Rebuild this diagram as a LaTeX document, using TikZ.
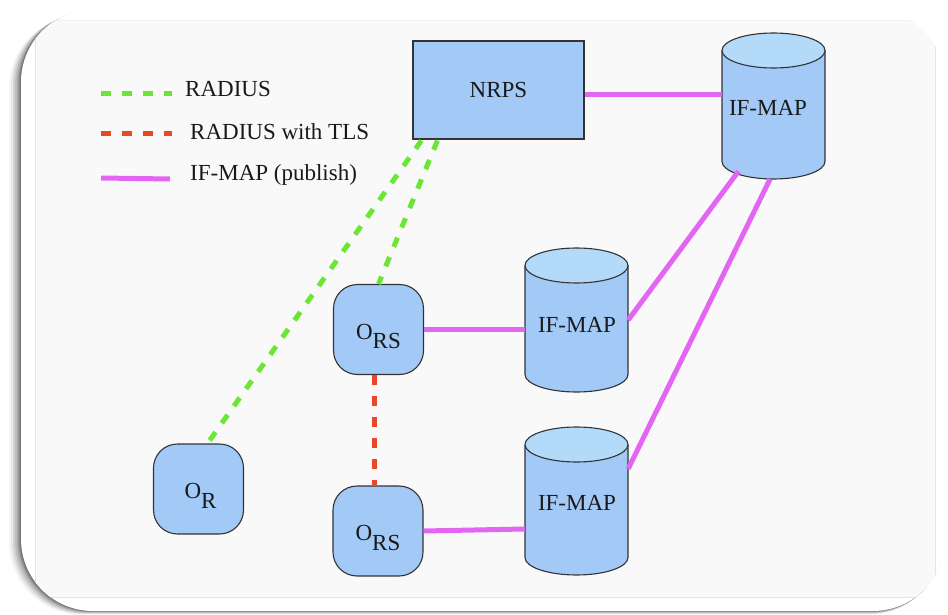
\documentclass[tikz,border=0pt]{standalone}
\usepackage{fontspec}
\setmainfont{Liberation Serif}
\usetikzlibrary{calc}
\definecolor{nodefill}{HTML}{A3C9F7}
\definecolor{topfill}{HTML}{B3DAF9}
\definecolor{edgecol}{HTML}{333333}
\definecolor{radgreen}{HTML}{6BE635}
\definecolor{tlsred}{HTML}{E8472A}
\definecolor{ifmag}{HTML}{E366F2}
\definecolor{panelfill}{HTML}{F9F9F9}
\definecolor{panelline}{HTML}{E4E4E4}
\tikzset{
  lbl/.style={font=\fontsize{23}{26}\selectfont, text=black!90},
  boxnode/.style={draw=edgecol, line width=1.1pt, fill=nodefill},
  onode/.style={boxnode, rounded corners=24pt, minimum width=90pt, minimum height=90pt, inner sep=0pt},
  cylbox/.style={minimum width=103pt, inner sep=0pt},
  greendash/.style={radgreen, line width=5pt, dash pattern=on 10pt off 11pt},
  reddash/.style={tlsred, line width=5pt, dash pattern=on 10pt off 11pt},
  publine/.style={ifmag, line width=5pt},
}
\newcommand{\cyl}[4]{% #1 center x, #2 top center y, #3 bottom center y, #4 ry
  \fill[nodefill] (#1-51.5,#2) -- (#1-51.5,#3) arc[start angle=180,end angle=0,x radius=51.5,y radius=#4] -- (#1+51.5,#2) -- cycle;
  \draw[edgecol, line width=1.1pt] (#1-51.5,#2) -- (#1-51.5,#3) arc[start angle=180,end angle=0,x radius=51.5,y radius=#4] -- (#1+51.5,#2);
  \draw[edgecol, line width=1.1pt, fill=topfill] (#1,#2) ellipse[x radius=51.5, y radius=#4];
}
\begin{document}
\begin{tikzpicture}[x=1pt,y=-1pt]
\useasboundingbox (0,0) rectangle (948,615);
\fill[white] (0,0) rectangle (948,615);
% card shadow
\foreach \i/\o in {12/0.04,10/0.06,8/0.08,6/0.10,4/0.12,2.5/0.15,1.2/0.18}{
  \fill[black, opacity=\o, rounded corners=72pt] (21-\i,10+\i*0.5) rectangle (945-\i*0.3,611+\i*0.3);
}
\fill[white, rounded corners=72pt] (21,10) rectangle (945,611);
% inner panel clipped to card
\begin{scope}
  \clip[rounded corners=72pt] (21,10) rectangle (945,611);
  \fill[panelfill] (35,20) rectangle (935,597);
  \draw[panelline, line width=0.9pt] (935,20) -- (935,597) -- (35,597) -- (35,20);
  \draw[panelline!50, line width=0.8pt] (35,20) -- (935,20);
\end{scope}

% cylinders (drawn shapes) and named nodes
\cyl{773.5}{50.5}{161.5}{17.5}
\cyl{576.5}{265.5}{374.5}{17.5}
\cyl{576.5}{444.5}{557.5}{17.5}
\node[cylbox, minimum height=146pt] (ifm1) at (773.5,106) {};
\node[cylbox, minimum height=144pt] (ifm2) at (576.5,320) {};
\node[cylbox, minimum height=148pt] (ifm3) at (576.5,501) {};
\node[lbl] (t1) at (768,108) {IF-MAP};
\node[lbl] (t2) at (577,325) {IF-MAP};
\node[lbl] (t3) at (577,503) {IF-MAP};

% NRPS
\node[boxnode, minimum width=171pt, minimum height=98pt, inner sep=0pt, lbl] (nrps) at (498.5,90) {NRPS};

% O nodes
\node[onode] (or) at (198.5,489) {};
\node[onode] (ors1) at (378.5,329.5) {};
\node[onode] (ors2) at (378,531) {};
\node[lbl] at ($(or)+(2,7)$) {O\raisebox{-0.42em}{R}};
\node[lbl] at ($(ors1)+(0,7)$) {O\raisebox{-0.42em}{RS}};
\node[lbl] at ($(ors2)+(0,7)$) {O\raisebox{-0.42em}{RS}};

% connectors
\draw[publine] (nrps.east |- 0,95) -- (ifm1.west |- 0,95);
\draw[publine] ($(ifm1.south)+(-35,-8)$) -- ($(ifm2.east)+(0,0)$);
\draw[publine] ($(ifm1.south)+(-3.5,0)$) -- ($(ifm3.north east)+(0,42)$);
\draw[publine] (ors1.east) -- (ors1.east -| ifm2.west);
\draw[publine] (ors2.east) -- ($(ifm3.west)+(0,28)$);
\draw[greendash] ($(nrps.south west)+(9,1)$) -- ($(or.north)+(9,0)$);
\draw[greendash] ($(nrps.south west)+(25,1)$) -- ($(ors1.north)+(0,0)$);
\draw[reddash] ($(ors1.south)+(-4,0)$) -- ($(ors2.north)+(-3.5,0)$);

% legend
\coordinate (lg1a) at (101,94); \coordinate (lg1b) at (172,94);
\coordinate (lg2a) at (101,134); \coordinate (lg2b) at (172,134);
\coordinate (lg3a) at (101,178); \coordinate (lg3b) at (170,179);
\draw[greendash] (lg1a) -- (lg1b);
\draw[reddash] (lg2a) -- (lg2b);
\draw[publine] (lg3a) -- (lg3b);
\node[lbl, anchor=base west, inner sep=0pt] (l1) at (185,97) {RADIUS};
\node[lbl, anchor=base west, inner sep=0pt] (l2) at (190,140) {RADIUS with TLS};
\node[lbl, anchor=base west, inner sep=0pt] (l3) at (190,180) {IF-MAP (publish)};
\end{tikzpicture}
\end{document}
